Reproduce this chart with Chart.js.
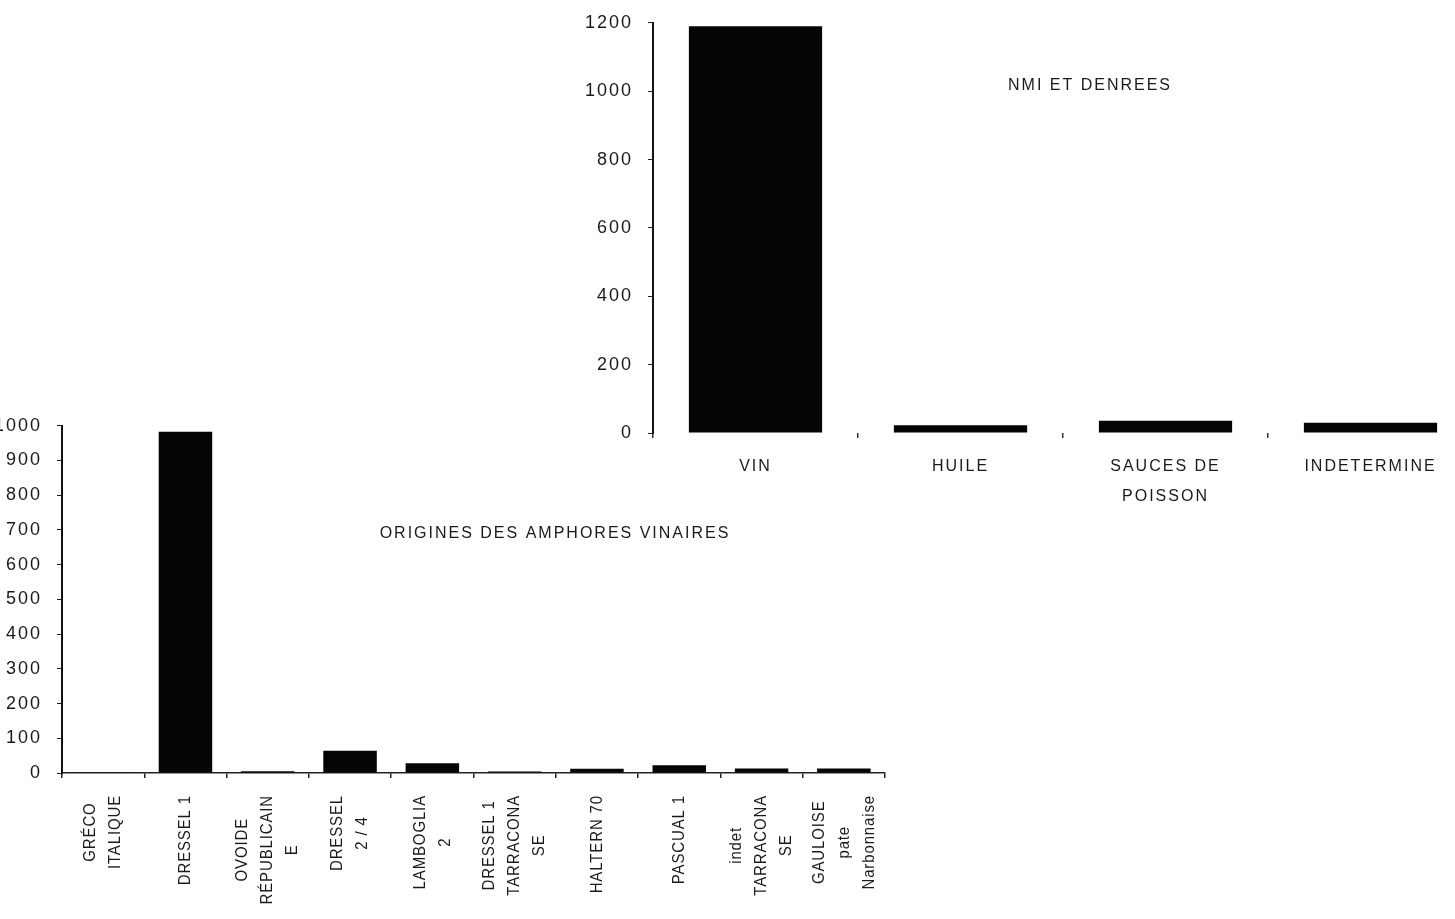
<!DOCTYPE html>
<html>
<head>
<meta charset="utf-8">
<title>NMI et denrées / origines des amphores vinaires</title>
<script src="https://cdn.jsdelivr.net/npm/chart.js@4.4.1/dist/chart.umd.min.js"></script>
<style>
  html, body { margin: 0; padding: 0; background: #fff; overflow: hidden; width: 1455px; height: 919px; }
  canvas { position: absolute; }
  #denreesChart { left: 573px; top: -3px; }
  #originesChart { left: -18px; top: 400px; }
</style>
</head>
<body>
<canvas id="denreesChart" width="920" height="520"></canvas>
<canvas id="originesChart" width="923" height="520"></canvas>
<script>
// NMI et denrées (top chart)
const denreeLabels = ['VIN', 'HUILE', ['SAUCES DE', 'POISSON'], 'INDETERMINE'];
const denreeNmi = [1190, 23, 36, 30];
const denreeTicks = [0, 200, 400, 600, 800, 1000, 1200];

// origines des amphores vinaires (bottom chart)
const origineLabels = [
    ['GRÉCO', 'ITALIQUE'],
    'DRESSEL 1',
    ['OVOIDE', 'RÉPUBLICAIN', 'E'],
    ['DRESSEL', '2 / 4'],
    ['LAMBOGLIA', '2'],
    ['DRESSEL 1', 'TARRACONA', 'SE'],
    'HALTERN 70',
    'PASCUAL 1',
    ['indet', 'TARRACONA', 'SE'],
    ['GAULOISE', 'pate', 'Narbonnaise']
];
const origineNmi = [2, 983, 5, 64, 28, 4, 12, 22, 13, 13];
const origineTicks = [0, 100, 200, 300, 400, 500, 600, 700, 800, 900, 1000];

(function () {
    "use strict";

    Chart.defaults.font.family = '"Liberation Sans", Arial, Helvetica, sans-serif';
    Chart.defaults.color = '#1a1a1a';

    // the scanned typewriter-ish text is widely spaced
    const spacedText = {
        id: 'spacedText',
        beforeDraw(chart) { chart.ctx.letterSpacing = '2px'; }
    };

    // free text label inside the plot (chart caption)
    const boxNote = {
        id: 'boxNote',
        afterDraw(chart, args, opts) {
            const a = chart.chartArea, ctx = chart.ctx;
            ctx.save();
            ctx.font = '16px "Liberation Sans", Arial, sans-serif';
            ctx.letterSpacing = '2px';
            ctx.fillStyle = '#1a1a1a';
            ctx.textAlign = 'center';
            ctx.textBaseline = 'middle';
            ctx.fillText(opts.text, a.left + opts.dx, a.top + opts.dy);
            ctx.restore();
        }
    };

    // vertical category labels, lines centred on the longest one (bottom chart)
    const verticalLabels = {
        id: 'verticalLabels',
        afterDraw(chart) {
            const sx = chart.scales.x, ctx = chart.ctx;
            const squeeze = 0.88, lineGap = 25;
            ctx.save();
            ctx.letterSpacing = '1px';
            ctx.font = '17px "Liberation Sans", Arial, sans-serif';
            ctx.fillStyle = '#1a1a1a';
            ctx.textAlign = 'center';
            ctx.textBaseline = 'middle';
            sx.getLabels().forEach(function (lab, i) {
                const lines = [].concat(lab);
                const cx = sx.getPixelForTick(i);
                const longest = Math.max.apply(null, lines.map(function (l) { return ctx.measureText(l).width; })) * squeeze;
                const cy = sx.top + 22 + longest / 2;
                lines.forEach(function (line, j) {
                    ctx.save();
                    ctx.translate(cx + (j - (lines.length - 1) / 2) * lineGap, cy);
                    ctx.rotate(-Math.PI / 2);
                    ctx.scale(squeeze, 1);
                    ctx.fillText(line, 0, 0);
                    ctx.restore();
                });
            });
            ctx.restore();
        }
    };

    function yAxis(ticks) {
        return {
            min: ticks[0],
            max: ticks[ticks.length - 1],
            afterFit: function (scale) { scale.width = 80; },
            afterBuildTicks: function (scale) { scale.ticks = ticks.map(function (v) { return { value: v }; }); },
            border: { display: true, color: '#111', width: 2 },
            grid: { display: true, drawOnChartArea: false, drawTicks: true, tickLength: 5, color: '#222', lineWidth: 1 },
            ticks: {
                padding: 15,
                font: { size: 18 },
                color: '#1a1a1a',
                callback: function (value) { return String(value); }
            }
        };
    }

    // NMI et denrées
    new Chart(document.getElementById('denreesChart').getContext('2d'), {
        type: 'bar',
        data: {
            labels: denreeLabels,
            datasets: [{
                label: 'NMI',
                data: denreeNmi,
                backgroundColor: '#050505',
                borderWidth: 0,
                barPercentage: 0.65,
                categoryPercentage: 1
            }]
        },
        options: {
            responsive: false,
            animation: false,
            layout: { padding: { top: 5, right: 20, bottom: 0, left: 0 } },
            plugins: {
                legend: { display: false },
                tooltip: { enabled: false },
                boxNote: { text: 'NMI ET DENREES', dx: 437, dy: 63 }
            },
            scales: {
                x: {
                    afterFit: function (scale) { scale.height = 84; },
                    border: { display: false },
                    grid: { display: true, drawOnChartArea: false, drawTicks: true, tickLength: 5, color: '#333', lineWidth: 1.5 },
                    ticks: {
                        padding: 14,
                        autoSkip: false,
                        minRotation: 0,
                        maxRotation: 0,
                        font: { size: 16, lineHeight: 1.875 },
                        color: '#1a1a1a'
                    }
                },
                y: yAxis(denreeTicks)
            }
        },
        plugins: [spacedText, boxNote]
    });

    // origines des amphores vinaires
    new Chart(document.getElementById('originesChart').getContext('2d'), {
        type: 'bar',
        data: {
            labels: origineLabels,
            datasets: [{
                label: 'NMI',
                data: origineNmi,
                backgroundColor: '#050505',
                borderWidth: 0,
                barPercentage: 0.65,
                categoryPercentage: 1
            }]
        },
        options: {
            responsive: false,
            animation: false,
            layout: { padding: { top: 5, right: 20, bottom: 0, left: 0 } },
            plugins: {
                legend: { display: false },
                tooltip: { enabled: false },
                boxNote: { text: 'ORIGINES DES AMPHORES VINAIRES', dx: 493, dy: 108 }
            },
            scales: {
                x: {
                    afterFit: function (scale) { scale.height = 147; },
                    border: { display: true, color: '#222', width: 1.5 },
                    grid: { display: true, drawOnChartArea: false, drawTicks: true, tickLength: 5, color: '#222', lineWidth: 1.5 },
                    ticks: { display: false }
                },
                y: yAxis(origineTicks)
            }
        },
        plugins: [spacedText, boxNote, verticalLabels]
    });
})();
</script>
</body>
</html>
